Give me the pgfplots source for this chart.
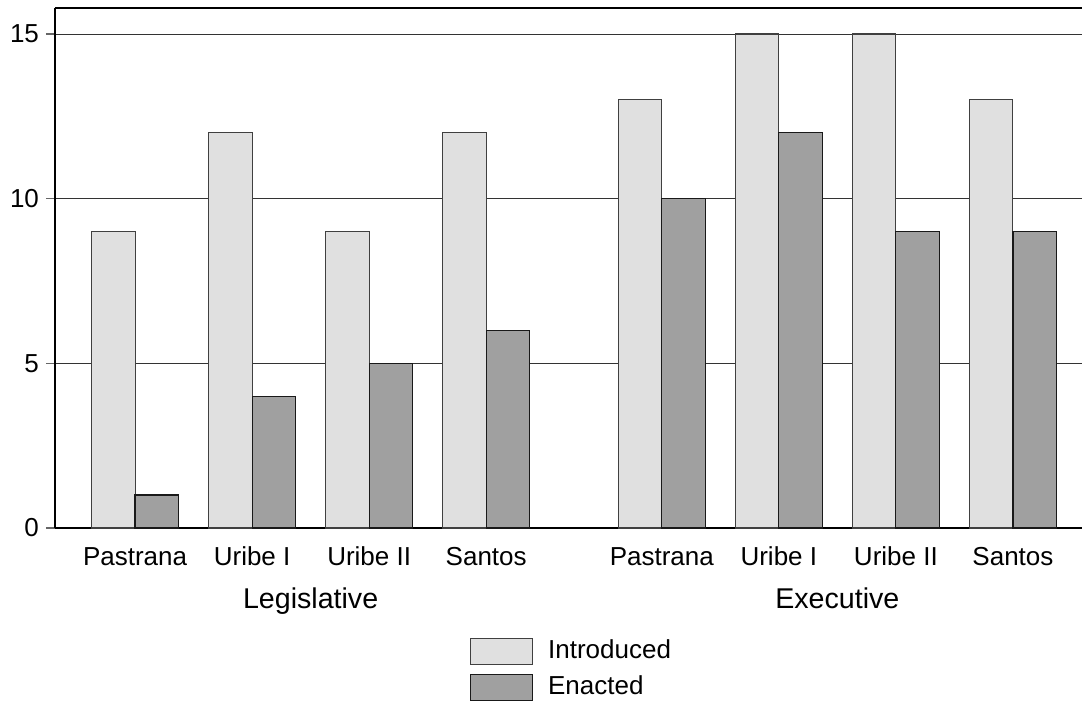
\documentclass[border=0pt]{standalone}
\usepackage{pgfplots}
\pgfplotsset{compat=1.18}
\usepackage{fontspec}
\setmainfont{Liberation Sans}
\definecolor{intro}{HTML}{E0E0E0}
\definecolor{enact}{HTML}{A0A0A0}
\begin{document}
\fontsize{13}{15.6}\selectfont
\begin{tikzpicture}
\begin{axis}[
  name=ax,
  scale only axis,
  width=513.5pt, height=260pt,
  xmin=-0.684, xmax=8.09,
  ymin=0, ymax=15.79,
  clip=false,
  axis lines=left,
  axis line style={-, black, line width=0.75pt},
  xtick={0,1,2,3,4.5,5.5,6.5,7.5},
  xticklabels={Pastrana, Uribe I, Uribe II, Santos, Pastrana, Uribe I, Uribe II, Santos},
  xticklabel style={text height=9.5pt, text depth=0pt},
  x tick style={draw=none},
  ytick={0,5,10,15},
  yticklabel style={xshift=1pt},
  y tick style={black!60, line width=0.6pt},
  tick align=outside,
  major tick length=4.5pt,
  ymajorgrids,
  major grid style={black!80, line width=0.5pt},
  /pgf/number format/assume math mode=true,
  legend style={at={(axis description cs:0.404,-0.2077)}, anchor=north west,
    draw=none, fill=none, inner sep=0pt, outer sep=0pt, row sep=2.5pt,
    /tikz/every odd column/.append style={column sep=5.5pt}},
  legend cell align=left,
  legend image code/.code={\draw[#1] (0pt,-6.5pt) rectangle (31pt,6.5pt);},
]
\addplot[ybar, bar width=0.372, bar shift=-0.186, fill=intro, draw=black!75, line width=0.55pt]
  coordinates {(0,9) (1,12) (2,9) (3,12) (4.5,13) (5.5,15) (6.5,15) (7.5,13)};
\addlegendentry{Introduced}
\addplot[ybar, bar width=0.372, bar shift=0.186, fill=enact, draw=black!90, line width=0.6pt]
  coordinates {(0,1) (1,4) (2,5) (3,6) (4.5,10) (5.5,12) (6.5,9) (7.5,9)};
\addlegendentry{Enacted}
\node[anchor=base, yshift=-40pt, font=\fontsize{14.3}{17}\selectfont] at (axis cs:1.5,0) {Legislative};
\node[anchor=base, yshift=-40pt, font=\fontsize{14.3}{17}\selectfont] at (axis cs:6,0) {Executive};
\end{axis}
\draw[line width=0.75pt] (ax.north west) -- (ax.north east);
\pgfresetboundingbox
\path[use as bounding box] ([xshift=-27.5pt, yshift=-86.5pt]ax.south west) rectangle ([yshift=4pt]ax.north east);
\end{tikzpicture}
\end{document}
